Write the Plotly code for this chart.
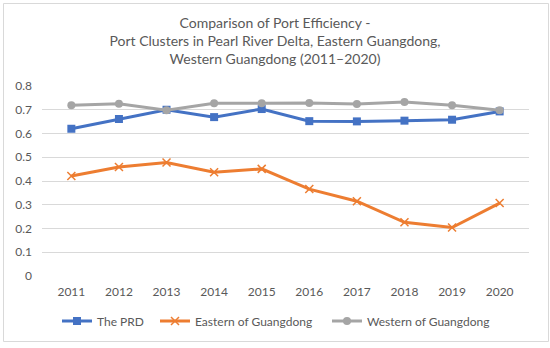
import plotly.graph_objects as go

years = ["2011", "2012", "2013", "2014", "2015", "2016", "2017", "2018", "2019", "2020"]
prd = [0.62, 0.661, 0.70, 0.669, 0.703, 0.652, 0.651, 0.654, 0.658, 0.693]
eastern = [0.421, 0.459, 0.478, 0.437, 0.451, 0.366, 0.315, 0.226, 0.204, 0.307]
western = [0.719, 0.725, 0.698, 0.727, 0.727, 0.728, 0.724, 0.733, 0.719, 0.698]
y_ticks = [0, 0.1, 0.2, 0.3, 0.4, 0.5, 0.6, 0.7, 0.8]
y_labels = ["0", "0.1", "0.2", "0.3", "0.4", "0.5", "0.6", "0.7", "0.8"]

W, H = 550, 348
ML, MR, MT, MB = 42, 21, 86, 72
FONT = "Lato, Open Sans, sans-serif"
GREY = "#595959"

fig = go.Figure()
fig.add_trace(go.Scatter(x=years, y=prd, name="The PRD", mode="lines+markers", legend="legend",
                         line=dict(color="#4472C4", width=3),
                         marker=dict(symbol="square", size=8, color="#4472C4")))
fig.add_trace(go.Scatter(x=years, y=eastern, name="Eastern of Guangdong", mode="lines+markers", legend="legend2",
                         line=dict(color="#ED7D31", width=3),
                         marker=dict(symbol="x-thin", size=8, color="#ED7D31",
                                     line=dict(color="#ED7D31", width=1.5))))
fig.add_trace(go.Scatter(x=years, y=western, name="Western of Guangdong", mode="lines+markers", legend="legend3",
                         line=dict(color="#A5A5A5", width=3),
                         marker=dict(symbol="circle", size=8, color="#A5A5A5")))

pw, ph = W - ML - MR, H - MT - MB
fig.add_shape(type="rect", xref="paper", yref="paper",
              x0=(3.5 - ML) / pw, x1=(548.5 - ML) / pw,
              y0=(H - MB - 341.5) / ph, y1=(H - MB - 3.5) / ph,
              line=dict(color="#D9D9D9", width=1), fillcolor="rgba(0,0,0,0)", layer="below")

def leg(x_px):
    return dict(orientation="h", xref="container", yref="container",
                x=x_px / W, xanchor="left", y=1 - 321 / H, yanchor="middle",
                font=dict(size=12, color=GREY, family=FONT), itemwidth=30,
                bgcolor="rgba(0,0,0,0)")

fig.update_layout(
    width=W, height=H,
    margin=dict(l=ML, r=MR, t=MT, b=MB, autoexpand=False),
    paper_bgcolor="white", plot_bgcolor="white",
    font=dict(family=FONT, color=GREY, size=12),
    title=dict(text="Comparison of Port Efficiency -<br>Port Clusters in Pearl River Delta, Eastern Guangdong,<br>Western Guangdong (2011–2020)",
               x=0.5, xanchor="center", xref="container", yref="container",
               y=1 - 28 / H, yanchor="top",
               font=dict(size=14, color=GREY)),
    xaxis=dict(type="category", showgrid=False, showline=False, ticks="", automargin=False,
               ticklabelstandoff=7, tickfont=dict(size=12, color=GREY)),
    yaxis=dict(range=[0, 0.8], tickvals=y_ticks, ticktext=y_labels, automargin=False,
               showgrid=True, gridcolor="#D9D9D9", gridwidth=1, zeroline=False,
               showline=False, ticks="", ticklabelstandoff=9, tickfont=dict(size=12, color=GREY)),
    legend=leg(57),
    legend2=leg(155),
    legend3=leg(327),
    showlegend=True,
)

fig.write_html("out.html", config={"displayModeBar": False},
               post_script="document.body.style.margin='0';document.body.style.overflow='hidden';")
